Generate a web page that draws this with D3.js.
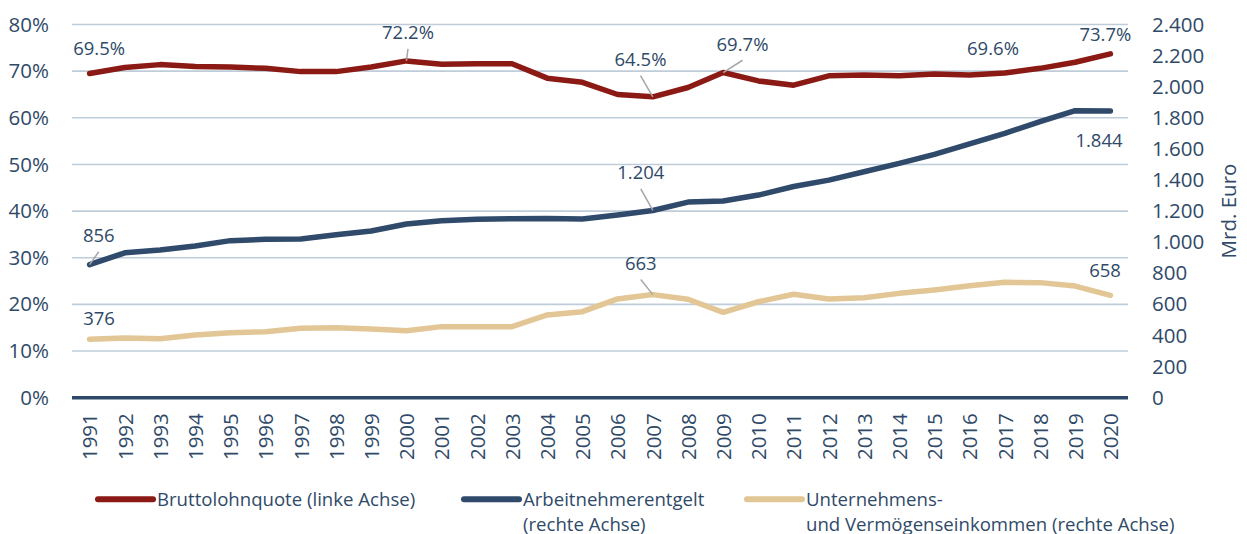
<!DOCTYPE html>
<meta charset="utf-8" />
<style>
  body { margin: 0; background: #fff; }
  svg text { font-family: "Open Sans", sans-serif; fill: #2f4a68; }
</style>
<svg width="1247" height="534"></svg>
<script src="https://d3js.org/d3.v7.min.js"></script>
<script>
    var years = ["1991","1992","1993","1994","1995","1996","1997","1998","1999","2000",
                 "2001","2002","2003","2004","2005","2006","2007","2008","2009","2010",
                 "2011","2012","2013","2014","2015","2016","2017","2018","2019","2020"];

    // Bruttolohnquote in % (linke Achse)
    var lohnquote = [69.5, 70.8, 71.4, 71.0, 70.9, 70.6, 69.9, 69.9, 70.9, 72.2,
                     71.5, 71.6, 71.6, 68.5, 67.6, 65.0, 64.5, 66.5, 69.7, 67.9,
                     67.0, 69.0, 69.2, 69.0, 69.4, 69.2, 69.6, 70.6, 71.9, 73.7];

    // Arbeitnehmerentgelt, Mrd. Euro (rechte Achse)
    var entgelt = [856, 932, 950, 975, 1010, 1019, 1021, 1048, 1072, 1117,
                   1138, 1147, 1151, 1153, 1149, 1175, 1204, 1258, 1265, 1303,
                   1358, 1399, 1453, 1507, 1565, 1632, 1700, 1775, 1846, 1844];

    // Unternehmens- und Vermoegenseinkommen, Mrd. Euro (rechte Achse)
    var unternehmen = [376, 384, 379, 403, 418, 424, 446, 450, 442, 431,
                       457, 457, 457, 532, 553, 635, 663, 633, 549, 617,
                       665, 635, 643, 671, 693, 720, 742, 740, 718, 658];

    var leftTicks = [0, 10, 20, 30, 40, 50, 60, 70, 80];
    var rightTicks = [0, 200, 400, 600, 800, 1000, 1200, 1400, 1600, 1800, 2000, 2200, 2400];

    var seriesNames = ["Bruttolohnquote (linke Achse)",
                       "Arbeitnehmerentgelt\n(rechte Achse)",
                       "Unternehmens-\nund Vermögenseinkommen (rechte Achse)"];

    var svg = d3.select("svg");
    // (not "top": that name is taken by window.top)
    var plotL = 72, plotR = 1128, plotT = 24.5, plotB = 397.7;

    var x = d3.scalePoint().domain(years).range([plotL, plotR]).padding(0.5);
    var yL = d3.scaleLinear().domain([0, 80]).range([plotB, plotT]);
    var yR = d3.scaleLinear().domain([0, 2400]).range([plotB, plotT]);

    var de = d3.formatLocale({ decimal: ",", thousands: ".", grouping: [3], currency: ["", " €"] });
    var fmtEuro = de.format(",d");
    var fmtPct = function(v) { return v.toFixed(1) + "%"; };

    // gridlines
    svg.append("g")
        .selectAll("line")
        .data(leftTicks.filter(function(d) { return d > 0; }))
        .enter()
        .append("line")
        .attr("x1", plotL).attr("x2", plotR)
        .attr("y1", function(d) { return yL(d); })
        .attr("y2", function(d) { return yL(d); })
        .attr("stroke", "#bfcddb")
        .attr("stroke-width", 1.6);

    // baseline
    svg.append("line")
        .attr("x1", plotL).attr("x2", plotR)
        .attr("y1", yL(0)).attr("y2", yL(0))
        .attr("stroke", "#2f4a68")
        .attr("stroke-width", 3.5);

    // axes
    var axL = svg.append("g")
        .attr("transform", "translate(" + plotL + ",0)")
        .call(d3.axisLeft(yL).tickValues(leftTicks).tickFormat(function(d) { return d + "%"; }).tickSize(0).tickPadding(23));
    var axR = svg.append("g")
        .attr("transform", "translate(" + plotR + ",0)")
        .call(d3.axisRight(yR).tickValues(rightTicks).tickFormat(fmtEuro).tickSize(0).tickPadding(24));
    var axX = svg.append("g")
        .attr("transform", "translate(0," + plotB + ")")
        .call(d3.axisBottom(x).tickSize(0));
    axX.selectAll("text")
        .attr("transform", "rotate(-90)")
        .attr("x", -15.5)
        .attr("y", 0)
        .attr("dy", "0.36em")
        .style("text-anchor", "end");

    [axL, axR, axX].forEach(function(a) {
        a.select(".domain").remove();
        a.selectAll("text").style("font-family", "'Open Sans', sans-serif").style("font-size", "20.5px").attr("fill", "#2f4a68");
    });

    svg.append("text")
        .attr("transform", "translate(1236,211) rotate(-90)")
        .attr("text-anchor", "middle")
        .style("font-size", "20.5px")
        .text("Mrd. Euro");

    // lines
    var series = [
        { values: lohnquote, scale: yL, color: "#8b1a14" },
        { values: entgelt, scale: yR, color: "#2f4a6b" },
        { values: unternehmen, scale: yR, color: "#e2c696" }
    ];

    series.slice().reverse().forEach(function(s) {
        var line = d3.line()
            .x(function(d, i) { return x(years[i]); })
            .y(function(d) { return s.scale(d); });
        svg.append("path")
            .datum(s.values)
            .attr("d", line)
            .attr("fill", "none")
            .attr("stroke", s.color)
            .attr("stroke-width", 5.5)
            .attr("stroke-linejoin", "round")
            .attr("stroke-linecap", "round");
    });

    // data labels: series index, year, offset of label from point, leader
    var labels = [
        { s: 0, year: "1991", dx: 9.5, dy: -18.5, leader: false },
        { s: 0, year: "2000", dx: 1.6, dy: -21.6, leader: true },
        { s: 0, year: "2007", dx: -12.3, dy: -30.8, leader: true },
        { s: 0, year: "2009", dx: 19.3, dy: -21.8, leader: true },
        { s: 0, year: "2017", dx: -11.8, dy: -18, leader: false },
        { s: 0, year: "2020", dx: -5, dy: -12.6, leader: false },
        { s: 1, year: "1991", dx: 9.2, dy: -22.3, leader: true },
        { s: 1, year: "2007", dx: -12, dy: -31, leader: true },
        { s: 1, year: "2020", dx: -11.4, dy: 35.7, leader: false },
        { s: 2, year: "1991", dx: 9.4, dy: -14.2, leader: false },
        { s: 2, year: "2007", dx: -12, dy: -24.6, leader: true },
        { s: 2, year: "2020", dx: -5.4, dy: -18.7, leader: false }
    ];

    var lab = svg.append("g");
    labels.forEach(function(l) {
        var s = series[l.s];
        var i = years.indexOf(l.year);
        var v = s.values[i];
        var px = x(l.year), py = s.scale(v);
        if (l.leader) {
            lab.append("line")
                .attr("x1", px + l.dx).attr("y1", py + l.dy + 9.5)
                .attr("x2", px).attr("y2", py)
                .attr("stroke", "#a6a6a6")
                .attr("stroke-width", 1.5);
        }
        lab.append("text")
            .attr("x", px + l.dx)
            .attr("y", py + l.dy)
            .attr("text-anchor", "middle")
            .style("font-size", "18.5px")
            .text(l.s === 0 ? fmtPct(v) : fmtEuro(v));
    });

    // legend
    var legendX = [98, 464, 747];
    var legend = svg.append("g");
    seriesNames.forEach(function(name, k) {
        legend.append("line")
            .attr("x1", legendX[k]).attr("x2", legendX[k] + 55)
            .attr("y1", 499.3).attr("y2", 499.3)
            .attr("stroke", series[k].color)
            .attr("stroke-width", 6)
            .attr("stroke-linecap", "round");
        var t = legend.append("text")
            .attr("x", legendX[k] + 59)
            .attr("y", 506)
            .style("font-size", "18.6px");
        name.split("\n").forEach(function(part, j) {
            t.append("tspan")
                .attr("x", legendX[k] + 59)
                .attr("dy", j === 0 ? 0 : 25)
                .text(part);
        });
    });
</script>
